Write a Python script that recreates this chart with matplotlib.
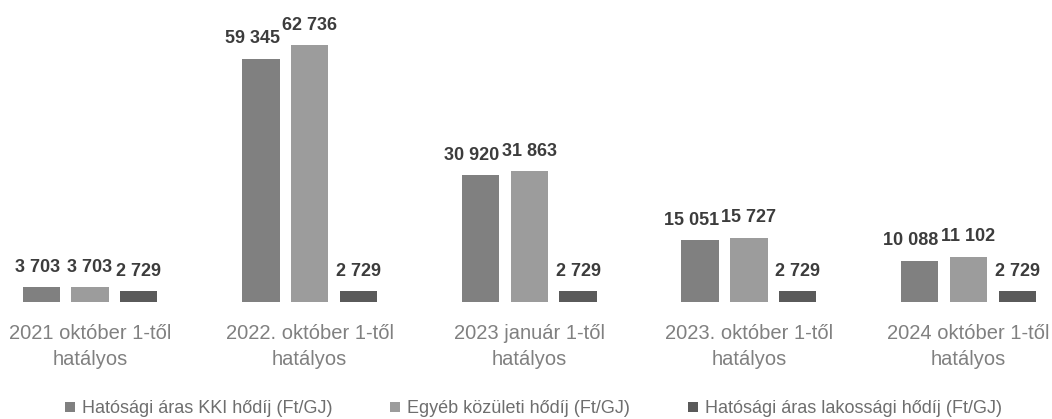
import matplotlib.pyplot as plt
import numpy as np

plt.rcParams['font.family'] = ['Liberation Sans', 'DejaVu Sans']

categories = [
    "2021 október 1-től\nhatályos",
    "2022. október 1-től\nhatályos",
    "2023 január 1-től\nhatályos",
    "2023. október 1-től\nhatályos",
    "2024 október 1-től\nhatályos",
]
series_names = [
    "Hatósági áras KKI hődíj (Ft/GJ)",
    "Egyéb közületi hődíj (Ft/GJ)",
    "Hatósági áras lakossági hődíj (Ft/GJ)",
]
kki = [3703, 59345, 30920, 15051, 10088]
kozuleti = [3703, 62736, 31863, 15727, 11102]
lakossagi = [2729, 2729, 2729, 2729, 2729]

colors = ["#808080", "#9c9c9c", "#5a5a5a"]

fig = plt.figure(figsize=(10.52, 4.19), dpi=100)
ax = fig.add_axes([0, 0.279, 1, 0.685])

x = np.arange(len(categories))
width = 0.17
offsets = [-0.222, 0, 0.222]


def fmt(v):
    return f"{v:,}".replace(",", " ")


for i, (vals, off, col, name) in enumerate(zip([kki, kozuleti, lakossagi], offsets, colors, series_names)):
    bars = ax.bar(x + off, vals, width, color=col, label=name)
    for b, v in zip(bars, vals):
        if i == 0:
            # first series labels are pushed left so they don't collide
            xpos, ha = b.get_x() + b.get_width(), "right"
        else:
            xpos, ha = b.get_x() + b.get_width() / 2, "center"
        ax.annotate(fmt(v), (xpos, v), xytext=(0, 11), textcoords="offset points",
                    ha=ha, va="baseline", fontsize=13,
                    fontweight="bold", color="#3c3c3c")

ax.set_xlim(-0.41, 4.38)
ax.set_ylim(0, 70000)
ax.set_xticks(x)
ax.set_xticklabels(categories, fontsize=14.5, color="#808080", linespacing=1.45)
ax.tick_params(axis="x", length=0, pad=16)
ax.set_yticks([])
for s in ax.spines.values():
    s.set_visible(False)

leg = fig.legend(loc="center", bbox_to_anchor=(0.507, 0.024), ncol=3,
                 frameon=False, fontsize=13, handlelength=0.55,
                 handleheight=0.55, handletextpad=0.4, columnspacing=3.2,
                 borderpad=0, borderaxespad=0)
for t in leg.get_texts():
    t.set_color("#6e6e6e")

plt.savefig("out.png", dpi=100)
plt.close()
